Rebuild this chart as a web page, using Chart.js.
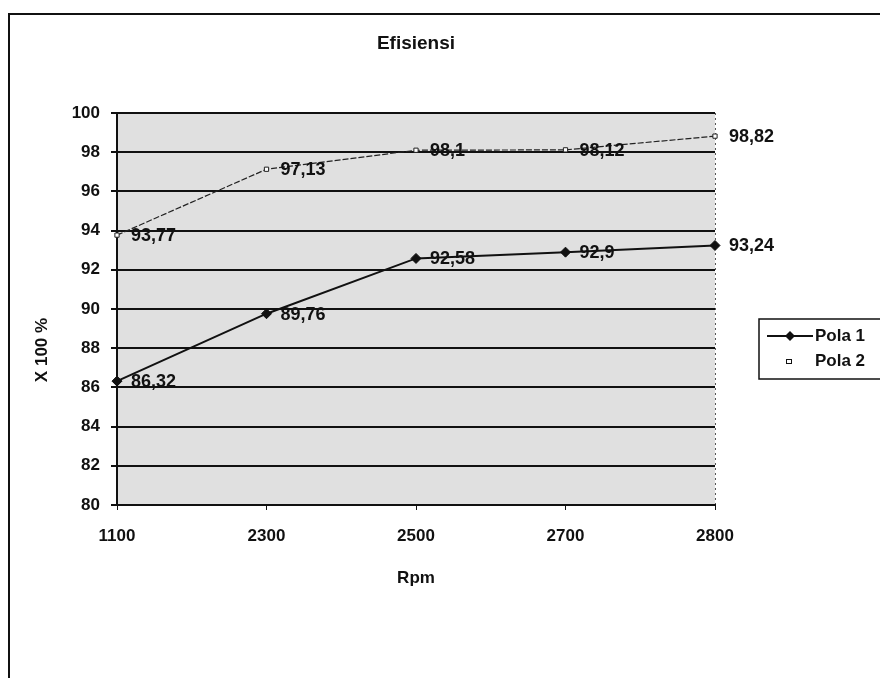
<!DOCTYPE html>
<html>
<head>
<meta charset="utf-8">
<script src="https://cdn.jsdelivr.net/npm/chart.js@4"></script>
<style>
  html, body { margin: 0; padding: 0; background: #fff; }
  #wrap { width: 880px; height: 678px; position: relative; }
</style>
</head>
<body>
<div id="wrap"><canvas id="chart" width="880" height="678"></canvas></div>
<script>
// data
const rpmLabels = ['1100', '2300', '2500', '2700', '2800'];
const pola1 = [86.32, 89.76, 92.58, 92.9, 93.24];
const pola2 = [93.77, 97.13, 98.1, 98.12, 98.82];
const seriesNames = ['Pola 1', 'Pola 2'];
const yTicks = [80, 82, 84, 86, 88, 90, 92, 94, 96, 98, 100];

const FONT = 'Arial, "Liberation Sans", sans-serif';
const INK = '#111';

// number with comma as decimal sign
function fmt(v) {
  return String(v).replace('.', ',');
}

// gray plot background + outer frame
const bgPlugin = {
  id: 'bg',
  beforeDraw(chart) {
    const ctx = chart.ctx;
    const a = chart.chartArea;
    ctx.save();
    ctx.fillStyle = '#fff';
    ctx.fillRect(0, 0, chart.width, chart.height);
    ctx.fillStyle = '#e0e0e0';
    ctx.fillRect(a.left, a.top, a.right - a.left, a.bottom - a.top);
    // dotted right edge of plot
    ctx.strokeStyle = '#555';
    ctx.lineWidth = 1;
    ctx.setLineDash([2, 3]);
    ctx.beginPath();
    ctx.moveTo(a.right + 0.5, a.top);
    ctx.lineTo(a.right + 0.5, a.bottom);
    ctx.moveTo(a.left, a.top + 0.5);
    ctx.lineTo(a.right, a.top + 0.5);
    ctx.stroke();
    ctx.setLineDash([]);
    ctx.strokeStyle = INK;
    ctx.lineWidth = 2;
    ctx.strokeRect(9, 14, chart.width + 20, chart.height + 20);
    ctx.restore();
  }
};

// title and axis titles
const textPlugin = {
  id: 'texts',
  afterDraw(chart) {
    const ctx = chart.ctx;
    const a = chart.chartArea;
    ctx.save();
    ctx.fillStyle = INK;
    ctx.textAlign = 'center';
    ctx.textBaseline = 'middle';
    ctx.font = 'bold 19px ' + FONT;
    ctx.fillText('Efisiensi', (a.left + a.right) / 2, 44);
    ctx.font = 'bold 17px ' + FONT;
    ctx.fillText('Rpm', (a.left + a.right) / 2, 578);
    ctx.translate(42, 350);
    ctx.rotate(-Math.PI / 2);
    ctx.fillText('X 100 %', 0, 0);
    ctx.restore();
  }
};

// value labels next to points
const labelPlugin = {
  id: 'valueLabels',
  afterDatasetsDraw(chart) {
    const ctx = chart.ctx;
    ctx.save();
    ctx.font = 'bold 18px ' + FONT;
    ctx.fillStyle = INK;
    ctx.textAlign = 'left';
    ctx.textBaseline = 'middle';
    chart.data.datasets.forEach((ds, i) => {
      chart.getDatasetMeta(i).data.forEach((pt, j) => {
        ctx.fillText(fmt(ds.data[j]), pt.x + 14, pt.y + 1);
      });
    });
    ctx.restore();
  }
};

// legend box on the right
const legendPlugin = {
  id: 'boxLegend',
  afterDraw(chart) {
    const ctx = chart.ctx;
    const x = 759, y = 319, w = 140, h = 60;
    ctx.save();
    ctx.fillStyle = '#fff';
    ctx.fillRect(x, y, w, h);
    ctx.strokeStyle = INK;
    ctx.lineWidth = 1.5;
    ctx.strokeRect(x, y, w, h);
    ctx.font = 'bold 17px ' + FONT;
    ctx.fillStyle = INK;
    ctx.textBaseline = 'middle';
    // Pola 1
    ctx.lineWidth = 2;
    ctx.beginPath();
    ctx.moveTo(767, 336);
    ctx.lineTo(813, 336);
    ctx.stroke();
    ctx.beginPath();
    ctx.moveTo(790, 331); ctx.lineTo(795, 336); ctx.lineTo(790, 341); ctx.lineTo(785, 336);
    ctx.closePath();
    ctx.fill();
    ctx.fillText(seriesNames[0], 815, 336);
    // Pola 2
    ctx.lineWidth = 1;
    ctx.strokeRect(786.5, 359.5, 5, 4);
    ctx.fillText(seriesNames[1], 815, 361);
    ctx.restore();
  }
};

new Chart(document.getElementById('chart'), {
  type: 'line',
  data: {
    labels: rpmLabels,
    datasets: [
      {
        label: seriesNames[0],
        data: pola1,
        borderColor: INK,
        backgroundColor: INK,
        borderWidth: 2,
        pointStyle: 'rectRot',
        pointRadius: 5,
        pointBorderWidth: 1,
        tension: 0
      },
      {
        label: seriesNames[1],
        data: pola2,
        borderColor: '#222',
        backgroundColor: '#fff',
        borderWidth: 1.2,
        borderDash: [6, 2],
        pointStyle: 'rect',
        pointRadius: 3,
        pointBorderWidth: 1,
        tension: 0
      }
    ]
  },
  options: {
    responsive: false,
    animation: false,
    layout: { padding: { left: 0, right: 165, top: 113, bottom: 0 } },
    plugins: {
      legend: { display: false },
      tooltip: { enabled: false },
      title: { display: false }
    },
    scales: {
      x: {
        offset: false,
        afterFit(scale) { scale.height = 173; },
        grid: { display: true, drawOnChartArea: false, color: INK, tickLength: 5 },
        border: { color: INK, width: 2 },
        ticks: {
          color: INK,
          font: { family: FONT, size: 17, weight: 'bold' },
          padding: 16,
          maxRotation: 0
        }
      },
      y: {
        min: 80,
        max: 100,
        afterFit(scale) { scale.width = 117; },
        afterBuildTicks(axis) {
          axis.ticks = yTicks.map(v => ({ value: v }));
        },
        grid: { color: INK, lineWidth: 2, tickLength: 6, drawOnChartArea: true },
        border: { color: INK, width: 2 },
        ticks: {
          color: INK,
          font: { family: FONT, size: 17, weight: 'bold' },
          padding: 11
        }
      }
    }
  },
  plugins: [bgPlugin, labelPlugin, legendPlugin, textPlugin]
});
</script>
</body>
</html>
